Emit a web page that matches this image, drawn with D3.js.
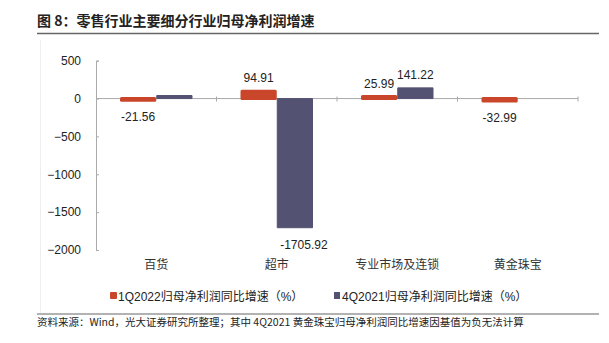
<!DOCTYPE html>
<html><head><meta charset="utf-8">
<script src="https://cdn.jsdelivr.net/npm/d3@7"></script>
<style>
body{margin:0;background:#fff;}
svg{display:block;}
</style></head>
<body>
<svg id="c" width="609" height="343"></svg>
<script>
const categories = ["百货", "超市", "专业市场及连锁", "黄金珠宝"];
const seriesNames = ["1Q2022归母净利润同比增速（%）", "4Q2021归母净利润同比增速（%）"];
const q1_2022 = [-21.56, 94.91, 25.99, -32.99];
const q4_2021 = [40, -1705.92, 141.22, null];
const q4_2021Labels = ["", "-1705.92", "141.22", ""];
const q1_2022Labels = ["-21.56", "94.91", "25.99", "-32.99"];
const yTicks = [500, 0, -500, -1000, -1500, -2000];
const colors = ["#C9462A", "#545273"];

const svg = d3.select("#c");
const latin = "'Liberation Sans', Arial, 'Noto Sans CJK SC', sans-serif";
const cjk = "'Noto Sans CJK SC', sans-serif";

// title
svg.append("text").attr("x", 37).attr("y", 26)
  .attr("font-family", cjk).attr("font-weight", "bold").attr("font-size", 14)
  .attr("fill", "#222").text("图 8：零售行业主要细分行业归母净利润增速");
svg.append("line").attr("x1", 37).attr("x2", 599).attr("y1", 33.5).attr("y2", 33.5)
  .attr("stroke", "#666").attr("stroke-width", 1.5);

// faint chart border on left
svg.append("line").attr("x1", 40.5).attr("x2", 40.5).attr("y1", 40).attr("y2", 313)
  .attr("stroke", "#eeeeee").attr("stroke-width", 1);

const left = 96, right = 578;
const y = d3.scaleLinear().domain([-2000, 500]).range([250, 60.7]);
const x0 = d3.scaleBand().domain(categories).range([left, right]).padding(0);
const x1 = d3.scaleBand().domain([0, 1]).range([24, x0.bandwidth() - 24]).padding(0);

// y axis
const yAxis = d3.axisLeft(y).tickValues(yTicks).tickSize(-3).tickPadding(15).tickFormat(d3.format("d"));
const gy = svg.append("g").attr("transform", `translate(${left},0)`).call(yAxis);
gy.select(".domain").attr("stroke", "#aaa");
gy.selectAll(".tick line").attr("stroke", "#aaa");
gy.selectAll("text").attr("font-family", latin).attr("font-size", 12).attr("fill", "#222");

// x axis line at zero (behind bars)
svg.append("line").attr("x1", left).attr("x2", right).attr("y1", y(0)).attr("y2", y(0))
  .attr("stroke", "#aaa").attr("stroke-width", 1);
svg.append("g").selectAll("line").data(categories.slice(1).map(c => x0(c)).concat([right]))
  .join("line")
  .attr("x1", d => d).attr("x2", d => d).attr("y1", y(0) - 2).attr("y2", y(0) + 3)
  .attr("stroke", "#aaa");

// bars
const series = [q1_2022, q4_2021];
series.forEach((vals, si) => {
  const sw = si === 0 ? 3 : 1;
  svg.append("g").selectAll("rect").data(categories.map((c, i) => ({c, v: vals[i]})).filter(d => d.v != null))
    .join("rect")
    .attr("x", d => x0(d.c) + x1(si) + sw / 2)
    .attr("width", x1.bandwidth() - sw)
    .attr("y", d => y(Math.max(0, d.v)))
    .attr("height", d => Math.max(0.5, Math.abs(y(d.v) - y(0))))
    .attr("fill", colors[si])
    .attr("stroke", colors[si])
    .attr("stroke-width", sw)
    .attr("stroke-linejoin", "round");
});

// category labels
svg.append("g").selectAll("text").data(categories).join("text")
  .attr("x", d => x0(d) + x0.bandwidth() / 2).attr("y", 269)
  .attr("text-anchor", "middle").attr("font-family", cjk).attr("font-size", 12)
  .attr("fill", "#333").text(d => d);

// value labels
const labelSets = [[q1_2022, q1_2022Labels], [q4_2021, q4_2021Labels]];
labelSets.forEach(([vals, labs], si) => {
  categories.forEach((c, i) => {
    if (!labs[i]) return;
    const v = vals[i];
    const cx = x0(c) + x1(si) + x1.bandwidth() / 2 + (v < -1000 ? 9 : 0);
    const ty = v >= 0 ? y(v) - 9 : y(v) + 21;
    svg.append("text").attr("x", cx).attr("y", ty).attr("text-anchor", "middle")
      .attr("font-family", latin).attr("font-size", 12).attr("fill", "#222").text(labs[i]);
  });
});

// legend
const legendX = [110, 334];
seriesNames.forEach((n, i) => {
  svg.append("rect").attr("x", legendX[i]).attr("y", 292).attr("width", i === 0 ? 7 : 6).attr("height", 7)
    .attr("rx", i === 0 ? 1 : 0).attr("fill", colors[i]);
  svg.append("text").attr("x", legendX[i] + 8).attr("y", 301)
    .attr("font-family", latin).attr("font-size", 12).attr("fill", "#222").text(n);
});

// footer
svg.append("line").attr("x1", 37).attr("x2", 599).attr("y1", 314).attr("y2", 314)
  .attr("stroke", "#666").attr("stroke-width", 1.2);
svg.append("text").attr("x", 37).attr("y", 326)
  .attr("font-family", cjk).attr("font-size", 10.5).attr("fill", "#222")
  .text("资料来源：Wind，光大证券研究所整理；其中 4Q2021 黄金珠宝归母净利润同比增速因基值为负无法计算");
</script>
</body></html>
